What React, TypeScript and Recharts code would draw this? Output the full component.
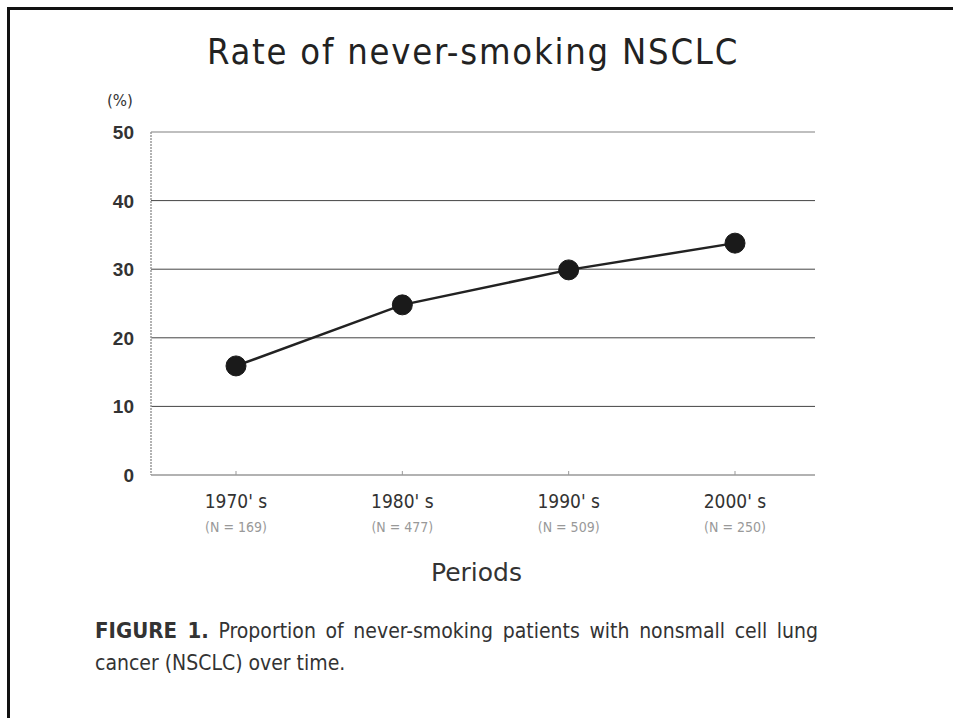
import React from 'react';
import { LineChart, Line, XAxis, YAxis, CartesianGrid, ReferenceLine } from 'recharts';

const periods = ["1970' s", "1980' s", "1990' s", "2000' s"];
const sampleSizes = ['(N = 169)', '(N = 477)', '(N = 509)', '(N = 250)'];
const neverSmokingRate = [15.9, 24.8, 29.9, 33.8];
const yTicks = [0, 10, 20, 30, 40, 50];
const gridValues = [10, 20, 30, 40];

const data = periods.map((p, i) => ({ period: p, n: sampleSizes[i], rate: neverSmokingRate[i] }));

const XTick = (props: any) => {
  const { x, y, payload, index } = props;
  return (
    <g>
      <text x={x} y={y + 33} textAnchor="middle" fontSize={19} fill="#333" fontFamily="'DejaVu Sans Condensed', 'DejaVu Sans', sans-serif">
        {payload.value}
      </text>
      <text x={x} y={y + 57} textAnchor="middle" fontSize={14} fill="#999" fontFamily="'DejaVu Sans Condensed', 'DejaVu Sans', sans-serif">
        {sampleSizes[index]}
      </text>
    </g>
  );
};

const YTick = (props: any) => {
  const { x, y, payload } = props;
  return (
    <text x={x} y={y + 7} textAnchor="end" fontSize={19} fontWeight="bold" fill="#333" fontFamily="'Liberation Sans', Arial, sans-serif">
      {payload.value}
    </text>
  );
};

export default function App() {
  return (
    <div style={{ position: 'absolute', left: 0, top: 0, width: 953, height: 718, background: '#fff', overflow: 'hidden' }}>
      <div style={{ position: 'absolute', left: 7, top: 7, width: 960, height: 720, borderTop: '3px solid #111', borderLeft: '3px solid #111' }} />
      <div style={{ position: 'absolute', left: 0, width: 946, top: 31, textAlign: 'center', fontSize: 36, letterSpacing: 1.8, color: '#222', fontFamily: "'DejaVu Sans Condensed', 'DejaVu Sans', sans-serif" }}>
        Rate of never-smoking NSCLC
      </div>
      <div style={{ position: 'absolute', left: 107, top: 92, fontSize: 15, color: '#333', fontFamily: "'DejaVu Sans', sans-serif" }}>(%)</div>
      <LineChart width={953} height={718} data={data} margin={{ top: 132, right: 138, bottom: 143, left: 111 }}>
        <CartesianGrid horizontal vertical={false} horizontalValues={gridValues} stroke="#444" strokeWidth={1} />
        <ReferenceLine y={50} stroke="#aaa" strokeWidth={1.5} />
        <XAxis
          dataKey="period"
          padding={{ left: 85, right: 80 }}
          axisLine={{ stroke: '#999', strokeWidth: 1.5 }}
          tickLine={{ stroke: '#999' }}
          tickSize={-4}
          tickMargin={4}
          tick={<XTick />}
          height={100}
          interval={0}
        />
        <YAxis
          domain={[0, 50]}
          ticks={yTicks}
          width={40}
          axisLine={{ stroke: '#999', strokeWidth: 1.5, strokeDasharray: '2 1' }}
          tickLine={false}
          tickSize={0}
          tickMargin={17}
          tick={<YTick />}
          interval={0}
        />
        <YAxis yAxisId="r" orientation="right" width={0} domain={[0, 50]} tick={false} tickLine={false} axisLine={{ stroke: '#999', strokeWidth: 1.5 }} />
        <Line
          type="linear"
          dataKey="rate"
          stroke="#222"
          strokeWidth={2.5}
          dot={{ r: 10, fill: '#1a1a1a', stroke: '#1a1a1a', strokeWidth: 1 }}
          isAnimationActive={false}
        />
      </LineChart>
      <div style={{ position: 'absolute', left: 431, top: 558, fontSize: 25, color: '#333', fontFamily: "'DejaVu Sans', sans-serif" }}>Periods</div>
      <div style={{ position: 'absolute', left: 95, top: 615, width: 723, fontSize: 21, lineHeight: '32px', color: '#333', fontFamily: "'Liberation Sans Narrow', 'DejaVu Sans Condensed', sans-serif", textAlign: 'justify', textAlignLast: 'justify' as any }}>
        <b style={{ fontSize: 22 }}>FIGURE 1.</b> Proportion of never-smoking patients with nonsmall cell lung
      </div>
      <div style={{ position: 'absolute', left: 95, top: 647, fontSize: 21, lineHeight: '32px', color: '#333', fontFamily: "'Liberation Sans Narrow', 'DejaVu Sans Condensed', sans-serif" }}>
        cancer (NSCLC) over time.
      </div>
    </div>
  );
}
